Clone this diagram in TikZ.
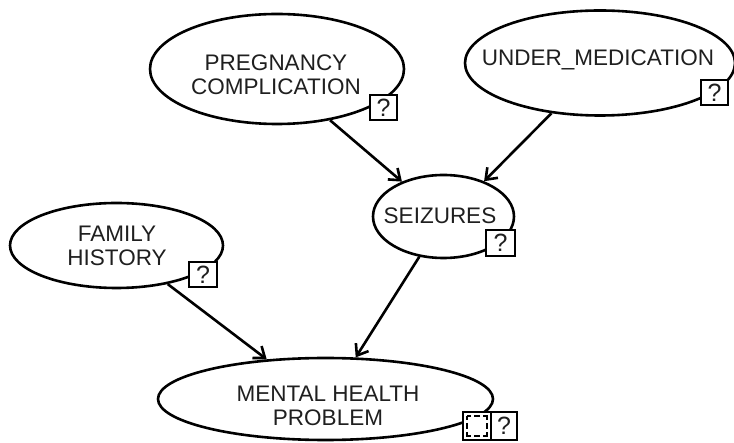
\documentclass[tikz,border=0pt]{standalone}
\usepackage{fontspec}
\setmainfont{Liberation Sans}
\usetikzlibrary{shapes.geometric,arrows.meta}
\tikzset{
  var/.style={ellipse,draw,line width=2.6pt,inner sep=0pt,fill=white},
  vtext/.style={align=center,inner sep=0pt,font=\fontsize{22.5}{24}\selectfont,text=black!88},
  qbox/.style={draw,line width=2.4pt,fill=white,inner sep=0pt,
    minimum width=27pt,minimum height=25pt,font=\fontsize{25}{25}\selectfont,text=black!88},
  link/.style={line width=2.6pt,-{Straight Barb[length=10pt,width=15pt,line width=2.6pt]}}
}
\begin{document}
\begin{tikzpicture}[x=1pt,y=-1pt]
\useasboundingbox (0,0) rectangle (734,443);
\node[var,minimum width=254pt,minimum height=110pt] (preg) at (277,69) {};
\node[var,minimum width=270pt,minimum height=105pt] (under) at (600,63) {};
\node[var,minimum width=141pt,minimum height=83pt] (seiz) at (443.5,216.5) {};
\node[var,minimum width=213pt,minimum height=85pt] (fam) at (116.5,245.5) {};
\node[var,minimum width=335pt,minimum height=82pt] (ment) at (325.5,399) {};
\node[vtext] (pregt) at (276,75) {PREGNANCY\\COMPLICATION};
\node[vtext] (undert) at (598,60) {UNDER\_MEDICATION};
\node[vtext] (seizt) at (440,216) {SEIZURES};
\node[vtext] (famt) at (117,246) {FAMILY\\HISTORY};
\node[vtext] (mentt) at (328,406) {MENTAL HEALTH\\PROBLEM};
\node[qbox] (qpreg) at (383.5,107.5) {?};
\node[qbox] (qunder) at (714.5,92.5) {?};
\node[qbox,minimum width=29pt,minimum height=26pt] (qseiz) at (500.5,243) {?};
\node[qbox,minimum width=28pt] (qfam) at (203,274.5) {?};
\node[qbox,minimum width=28pt,minimum height=28pt] (iment) at (477,426) {};
\node[qbox,minimum width=26pt,minimum height=28pt] (qment) at (504,426) {?};
\draw[line width=2pt,dash pattern=on 8pt off 3pt on 6pt off 3pt,dash phase=4pt]
  ([shift={(-10,-10)}]iment.center) rectangle ([shift={(10,10)}]iment.center);
\draw[link] (preg.-44) -- (seiz.140);
\draw[link] (under.-134) -- (seiz.41);
\draw[link] (seiz.-121) -- (ment.54);
\draw[link] (fam.-37) -- (ment.146);
\end{tikzpicture}
\end{document}
